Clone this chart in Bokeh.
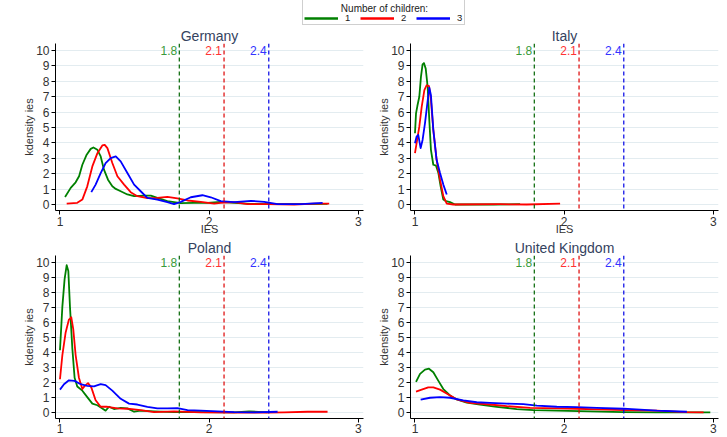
from bokeh.plotting import figure
from bokeh.layouts import column, row
from bokeh.models import Range1d, FixedTicker, Span, Legend, LegendItem, Label
from bokeh.core.properties import value
from bokeh.embed import file_html
from bokeh.resources import INLINE

# ---------------- data ----------------
thresholds = [1.8, 2.1, 2.4]
threshold_labels = ["1.8", "2.1", "2.4"]
children_labels = ["1", "2", "3"]
legend_title = "Number of children:"
y_ticks = [0, 1, 2, 3, 4, 5, 6, 7, 8, 9, 10]
x_ticks = [1, 2, 3]
countries = ["Germany", "Italy", "Poland", "United Kingdom"]

germany_1_x = [1.034, 1.072, 1.105, 1.128, 1.150, 1.179, 1.206, 1.224, 1.251, 1.273, 1.295, 1.322, 1.351, 1.374, 1.407, 1.452, 1.497, 1.564, 1.609, 1.653, 1.720, 1.810, 1.899, 1.989, 2.078, 2.168, 2.280, 2.391, 2.615, 2.794]
germany_1_y = [0.49, 1.08, 1.44, 1.83, 2.58, 3.23, 3.61, 3.70, 3.55, 3.12, 2.26, 1.61, 1.18, 1.01, 0.86, 0.65, 0.54, 0.58, 0.58, 0.43, 0.22, 0.09, 0.11, 0.11, 0.17, 0.11, 0.04, 0.02, 0.02, 0.04]
germany_2_x = [1.045, 1.116, 1.150, 1.183, 1.217, 1.251, 1.284, 1.300, 1.318, 1.351, 1.385, 1.430, 1.474, 1.519, 1.586, 1.653, 1.720, 1.787, 1.855, 1.944, 2.034, 2.078, 2.168, 2.257, 2.391, 2.570, 2.705, 2.805]
germany_2_y = [0.06, 0.11, 0.32, 1.18, 2.47, 3.33, 3.83, 3.87, 3.66, 2.69, 1.83, 1.29, 0.80, 0.54, 0.41, 0.43, 0.49, 0.39, 0.26, 0.17, 0.06, 0.11, 0.15, 0.02, 0.02, 0.00, 0.06, 0.06]
germany_3_x = [1.210, 1.239, 1.273, 1.306, 1.340, 1.374, 1.407, 1.452, 1.497, 1.541, 1.586, 1.653, 1.720, 1.765, 1.810, 1.877, 1.955, 2.011, 2.078, 2.168, 2.280, 2.369, 2.459, 2.615, 2.761]
germany_3_y = [0.80, 1.29, 2.04, 2.69, 3.01, 3.12, 2.80, 2.04, 1.29, 0.86, 0.43, 0.32, 0.15, 0.02, 0.17, 0.47, 0.60, 0.47, 0.22, 0.15, 0.24, 0.17, 0.02, 0.02, 0.11]

italy_1_x = [1.0, 1.007, 1.016, 1.029, 1.040, 1.051, 1.060, 1.072, 1.085, 1.096, 1.107, 1.123, 1.141, 1.157, 1.172, 1.190, 1.208, 1.235, 1.269, 1.526, 1.705]
italy_1_y = [4.62, 5.91, 6.39, 6.99, 8.28, 9.10, 9.18, 8.82, 7.63, 5.48, 3.55, 2.58, 2.52, 2.04, 1.18, 0.32, 0.22, 0.15, 0.00, 0.00, 0.02]
italy_2_x = [1.0, 1.011, 1.029, 1.045, 1.063, 1.078, 1.094, 1.107, 1.123, 1.145, 1.168, 1.190, 1.213, 1.257, 1.570, 1.749, 1.973]
italy_2_y = [3.33, 3.98, 5.05, 6.34, 7.42, 7.74, 7.68, 6.77, 4.84, 2.90, 1.61, 0.54, 0.06, 0.00, 0.02, 0.00, 0.06]
italy_3_x = [1.0, 1.011, 1.022, 1.038, 1.051, 1.067, 1.083, 1.096, 1.107, 1.123, 1.145, 1.168, 1.190, 1.213]
italy_3_y = [3.98, 4.41, 4.52, 3.66, 4.19, 5.27, 6.56, 7.59, 7.10, 4.84, 2.90, 2.04, 1.29, 0.65]

poland_1_x = [1.0, 1.016, 1.031, 1.045, 1.056, 1.067, 1.083, 1.098, 1.116, 1.150, 1.183, 1.217, 1.251, 1.284, 1.306, 1.329, 1.362, 1.407, 1.452, 1.497, 1.541, 1.631, 1.765, 1.944, 2.168, 2.268, 2.391]
poland_1_y = [4.15, 7.05, 8.88, 9.81, 9.42, 7.05, 4.26, 2.32, 1.74, 1.46, 1.03, 0.60, 0.49, 0.28, 0.13, 0.39, 0.24, 0.32, 0.28, 0.06, 0.13, 0.09, 0.04, 0.04, 0.02, 0.09, 0.02]
poland_2_x = [1.0, 1.016, 1.038, 1.060, 1.076, 1.089, 1.105, 1.127, 1.150, 1.166, 1.188, 1.210, 1.239, 1.273, 1.318, 1.385, 1.452, 1.541, 1.631, 1.765, 1.944, 2.168, 2.391, 2.503, 2.660, 2.794]
poland_2_y = [2.22, 3.83, 5.33, 6.19, 6.34, 5.55, 3.83, 2.32, 1.57, 1.78, 1.96, 1.68, 0.82, 0.39, 0.39, 0.28, 0.26, 0.17, 0.04, 0.09, 0.02, 0.00, 0.00, 0.02, 0.06, 0.06]
poland_3_x = [1.0, 1.027, 1.060, 1.098, 1.139, 1.183, 1.228, 1.273, 1.306, 1.351, 1.407, 1.463, 1.519, 1.586, 1.653, 1.720, 1.787, 1.855, 1.944, 2.056, 2.168, 2.302, 2.459]
poland_3_y = [1.53, 1.89, 2.15, 2.11, 1.89, 1.78, 1.74, 1.89, 1.83, 1.46, 0.92, 0.60, 0.54, 0.39, 0.28, 0.28, 0.30, 0.17, 0.13, 0.09, 0.04, 0.02, 0.06]

uk_1_x = [1.007, 1.034, 1.067, 1.094, 1.123, 1.157, 1.190, 1.235, 1.280, 1.347, 1.436, 1.548, 1.682, 1.794, 1.951, 2.174, 2.398, 2.622, 2.980]
uk_1_y = [2.04, 2.58, 2.86, 2.92, 2.69, 2.11, 1.57, 1.14, 0.88, 0.67, 0.54, 0.39, 0.24, 0.17, 0.13, 0.09, 0.04, 0.02, 0.02]
uk_2_x = [1.007, 1.045, 1.089, 1.123, 1.168, 1.224, 1.280, 1.369, 1.503, 1.615, 1.772, 1.951, 2.085, 2.219, 2.398, 2.622, 2.801, 2.935]
uk_2_y = [1.40, 1.53, 1.68, 1.68, 1.53, 1.20, 0.88, 0.65, 0.54, 0.43, 0.32, 0.28, 0.26, 0.22, 0.17, 0.13, 0.04, 0.02]
uk_3_x = [1.038, 1.101, 1.168, 1.235, 1.324, 1.414, 1.503, 1.615, 1.727, 1.817, 1.951, 2.085, 2.219, 2.398, 2.622, 2.823]
uk_3_y = [0.86, 0.99, 1.03, 0.99, 0.82, 0.69, 0.65, 0.60, 0.56, 0.47, 0.39, 0.37, 0.32, 0.26, 0.13, 0.06]

# ---------------- styles ----------------
FONT = "Liberation Sans"
series_colors = ["#008000", "#ff0000", "#0000ff"]
span_colors = ["#006400", "#dd0000", "#0000e6"]
span_text_colors = ["#3a9a3a", "#ff3333", "#3333ff"]
TITLE_COLOR = "#34425e"
TICK_COLOR = "#333333"
FRAME_W = 308


def make_panel(title, series, lb, rb, height, tb, bb, xlabel):
    p = figure(width=lb + FRAME_W + rb, height=height, output_backend="svg", toolbar_location=None,
               x_range=Range1d(0.97, 3.035), y_range=Range1d(-0.39, 10.45),
               min_border_left=lb, min_border_right=rb, min_border_top=tb, min_border_bottom=bb,
               title=title)
    p.title.text_font = FONT
    p.title.text_font_size = "14px"
    p.title.text_font_style = "normal"
    p.title.text_color = TITLE_COLOR
    p.title.align = "center"
    p.title.standoff = 0
    p.title.offset = 0
    p.outline_line_color = None
    p.background_fill_color = "white"
    p.border_fill_color = "white"
    p.xgrid.visible = False
    p.ygrid.grid_line_color = "#e3ecf0"
    p.ygrid.grid_line_width = 1
    p.ygrid.ticker = FixedTicker(ticks=y_ticks)

    p.yaxis.ticker = FixedTicker(ticks=y_ticks)
    p.yaxis.axis_label = "kdensity ies"
    p.yaxis.axis_label_text_font = FONT
    p.yaxis.axis_label_text_font_size = "11px"
    p.yaxis.axis_label_text_font_style = "normal"
    p.yaxis.axis_label_text_color = TICK_COLOR
    p.yaxis.axis_label_standoff = -2
    p.xaxis.ticker = FixedTicker(ticks=x_ticks)
    if xlabel:
        p.xaxis.axis_label = xlabel
        p.xaxis.axis_label_text_font = FONT
        p.xaxis.axis_label_text_font_size = "11px"
        p.xaxis.axis_label_text_font_style = "normal"
        p.xaxis.axis_label_text_color = TICK_COLOR
        p.xaxis.axis_label_standoff = -6
    for ax in (p.xaxis, p.yaxis):
        ax.major_label_text_font = FONT
        ax.major_label_text_font_size = "12px"
        ax.major_label_text_color = TICK_COLOR
        ax.major_tick_in = 0
        ax.major_tick_out = 4
        ax.minor_tick_in = 0
        ax.minor_tick_out = 0
        ax.axis_line_color = "black"
        ax.major_tick_line_color = "black"
    p.xaxis.major_label_standoff = 2 if xlabel else 1
    p.yaxis.major_label_standoff = 2

    for loc, lc in zip(thresholds, span_colors):
        p.add_layout(Span(location=loc, dimension="height", line_color=lc,
                          line_width=1.2, line_dash="4 3"))
    p.text(x=thresholds, y=[10] * len(thresholds), text=threshold_labels,
           text_color=span_text_colors, text_align="right", text_baseline="middle",
           x_offset=-2, text_font=value(FONT), text_font_size="12px")

    for (xs, ys), c in zip(series, series_colors):
        p.line(xs, ys, line_color=c, line_width=1.8, line_join="round")
    return p


LEG_H = 25
TOP_H = 212
BOT_H = 437 - LEG_H - TOP_H

germany = make_panel(countries[0], [(germany_1_x, germany_1_y), (germany_2_x, germany_2_y), (germany_3_x, germany_3_y)],
                     55, 4, TOP_H, 17, 26, "IES")
italy = make_panel(countries[1], [(italy_1_x, italy_1_y), (italy_2_x, italy_2_y), (italy_3_x, italy_3_y)],
                   43, 9, TOP_H, 17, 26, "IES")
poland = make_panel(countries[2], [(poland_1_x, poland_1_y), (poland_2_x, poland_2_y), (poland_3_x, poland_3_y)],
                    55, 4, BOT_H, 17, 19, None)
uk = make_panel(countries[3], [(uk_1_x, uk_1_y), (uk_2_x, uk_2_y), (uk_3_x, uk_3_y)],
                43, 9, BOT_H, 17, 19, None)

# ---------------- legend strip ----------------
leg = figure(width=727, height=LEG_H, output_backend="svg", toolbar_location=None,
             x_range=Range1d(0, 727), y_range=Range1d(0, LEG_H), min_border=0)
leg.axis.visible = False
leg.grid.visible = False
leg.outline_line_color = None
items = []
for lab, c, (xs, ys) in zip(children_labels, series_colors,
                            [(germany_1_x, germany_1_y), (germany_2_x, germany_2_y), (germany_3_x, germany_3_y)]):
    r = leg.line(xs, ys, line_color=c, line_width=2.5, visible=False)
    items.append(LegendItem(label=lab, renderers=[r]))
legend = Legend(items=items, orientation="horizontal", location=(302, 0), title="\u00a0")
legend.title_text_font = FONT
legend.title_text_font_size = "9.5px"
legend.title_standoff = 0
legend.label_text_font = FONT
legend.label_text_font_size = "9.5px"
legend.label_text_color = "#222222"
legend.glyph_width = 34
legend.glyph_height = 8
legend.label_height = 8
legend.label_width = 6
legend.label_standoff = 7
legend.spacing = 9
legend.padding = 1
legend.margin = 0
legend.border_line_color = "#a0a0a0"
legend.border_line_width = 1
legend.background_fill_alpha = 0
leg.add_layout(legend)
leg.add_layout(Label(x=384, y=LEG_H - 8, text=legend_title, text_align="center",
                     text_baseline="middle", text_font=FONT, text_font_size="10px",
                     text_color="#222222", level="overlay"))

layout = column(leg, row(germany, italy), row(poland, uk))

open("out.html", "w").write(file_html(layout, INLINE))
